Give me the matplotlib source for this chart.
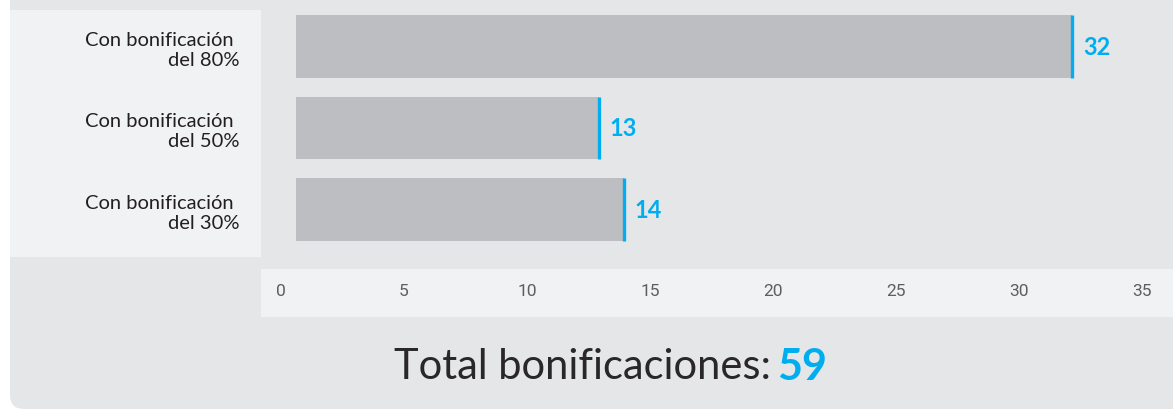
import matplotlib
matplotlib.use("Agg")
import matplotlib.pyplot as plt
from matplotlib.patches import FancyBboxPatch, Rectangle
from matplotlib.transforms import IdentityTransform

categories = ["Con bonificación \ndel 80%", "Con bonificación \ndel 50%", "Con bonificación \ndel 30%"]
values = [32, 13, 14]
ticks = [0, 5, 10, 15, 20, 25, 30, 35]
total_label = "Total bonificaciones:"
total_value = "59"

W, H = 1173, 414
BG = "#e5e6e8"
PANEL = "#f1f2f4"
BAR = "#bdbec1"
BLUE = "#00aeef"
TXT = "#231f20"
FONT = ["Lato", "DejaVu Sans"]

fig = plt.figure(figsize=(W / 100, H / 100), dpi=100, facecolor="white")

def px(x, y_top, w, h):
    return [x / W, 1 - (y_top + h) / H, w / W, h / H]

fig.patches.append(FancyBboxPatch((10, 4), 1300, 500, boxstyle="round,pad=0,rounding_size=14",
                                  transform=IdentityTransform(), facecolor=BG, edgecolor="none", zorder=-5))
fig.patches.append(Rectangle((10, H - 258), 251, 247, transform=IdentityTransform(),
                             facecolor=PANEL, edgecolor="none", zorder=-4))

# bar axes: scale 24.9 px/unit, zero at x=275 (left part clipped at x=296)
S, X0 = 24.9, 275.0
left_px, right_px = 296, 1160
ax = fig.add_axes(px(left_px, 11, right_px - left_px, 247))
ax.set_facecolor("none")
ypos = list(range(len(values)))
h = 0.773
ax.barh(ypos, values, height=h, color=BAR, zorder=2)
ax.vlines(values, [y - h / 2 for y in ypos], [y + h / 2 for y in ypos], color=BLUE, lw=2.4, zorder=3)
for y, v in zip(ypos, values):
    ax.annotate(str(v), (v, y), xytext=(8, 0), textcoords="offset points", va="center", ha="left",
                color=BLUE, fontsize=17, fontweight="bold", family=FONT, annotation_clip=False)
ax.set_xlim((left_px - X0) / S, (right_px - X0) / S)
ax.set_ylim(2.583, -0.448)
ax.set_yticks(ypos)
ax.set_yticklabels(categories, family=FONT, fontsize=14.5, color=TXT, ha="right", multialignment="right")
ax.tick_params(axis="y", length=0, pad=41)
ax.set_xticks([])
for s in ax.spines.values():
    s.set_visible(False)

# tick strip
TS, T0 = 24.607, 280.75
tx = fig.add_axes(px(261, 270, 912, 48))
tx.set_facecolor(PANEL)
tx.set_xlim((261 - T0) / TS, (1173 - T0) / TS)
tx.set_ylim(0, 1)
tx.set_xticks(ticks)
tx.set_xticklabels([str(t) for t in ticks], family=["Roboto", "DejaVu Sans"], fontweight="normal",
                   fontsize=12.5, color="#5e5e60")
tx.tick_params(axis="x", length=0, pad=-24.5)
tx.set_yticks([])
for s in tx.spines.values():
    s.set_visible(False)

fig.text(771 / W, 1 - 367 / H, total_label, ha="right", va="center", fontsize=30, fontweight="normal",
         family=FONT, color="#2a2728")
fig.text(777 / W, 1 - 367 / H, total_value, ha="left", va="center", fontsize=31, fontweight="bold",
         family=FONT, color=BLUE)

fig.savefig("out.png", dpi=100, facecolor="white")
